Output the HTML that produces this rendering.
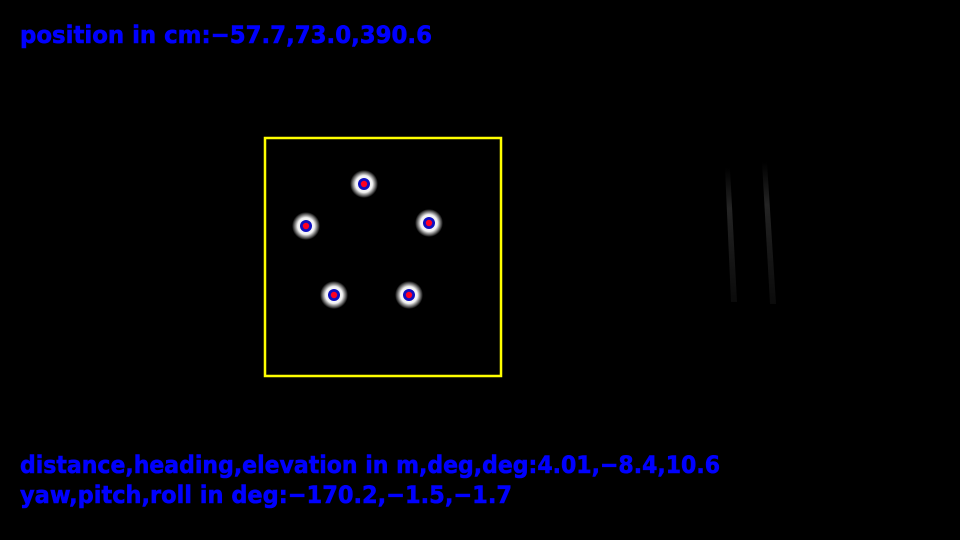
<!DOCTYPE html>
<html><head><meta charset="utf-8"><style>
html,body{margin:0;padding:0;background:#000;width:960px;height:540px;overflow:hidden}
svg{display:block}
text{font-family:"DejaVu Sans","Liberation Sans",sans-serif;font-weight:bold;fill:#0000ff}
</style></head><body>
<svg width="960" height="540" viewBox="0 0 960 540">
<defs>
<radialGradient id="glow"><stop offset="0" stop-color="#fff"/><stop offset="0.6" stop-color="#fff" stop-opacity="0.95"/><stop offset="1" stop-color="#fff" stop-opacity="0"/></radialGradient>
<linearGradient id="streak" x1="0" y1="0" x2="0" y2="1"><stop offset="0" stop-color="#222" stop-opacity="0"/><stop offset="0.3" stop-color="#242424"/><stop offset="1" stop-color="#1c1c1c" stop-opacity="0.4"/></linearGradient>
</defs>
<rect width="960" height="540" fill="#000"/>
<polygon points="725,168 730,168 737,302 731,302" fill="url(#streak)"/>
<polygon points="762,162 767,162 776,304 770,304" fill="url(#streak)"/>
<rect x="265" y="138" width="236" height="238" fill="none" stroke="#ffff00" stroke-width="2.5"/>
<g id="dots"></g>
<text x="20" y="43" font-size="24" textLength="412" lengthAdjust="spacingAndGlyphs" stroke="#0000ff" stroke-width="0.6">position in cm:−57.7,73.0,390.6</text>
<text x="20" y="473" font-size="24" textLength="700" lengthAdjust="spacingAndGlyphs" stroke="#0000ff" stroke-width="0.6">distance,heading,elevation in m,deg,deg:4.01,−8.4,10.6</text>
<text x="20" y="503" font-size="24" textLength="492" lengthAdjust="spacingAndGlyphs" stroke="#0000ff" stroke-width="0.6">yaw,pitch,roll in deg:−170.2,−1.5,−1.7</text>
</svg>
<script>
const dotX=[364,306,429,334,409];
const dotY=[184,226,223,295,295];
const g=document.getElementById('dots');
const NS='http://www.w3.org/2000/svg';
for(let i=0;i<dotX.length;i++){
  const gl=document.createElementNS(NS,'circle');
  gl.setAttribute('cx',dotX[i]);gl.setAttribute('cy',dotY[i]);gl.setAttribute('r',14);gl.setAttribute('fill','url(#glow)');
  
  
  g.appendChild(gl);
  const b=document.createElementNS(NS,'circle');
  b.setAttribute('cx',dotX[i]);b.setAttribute('cy',dotY[i]);b.setAttribute('r',6);b.setAttribute('fill','#1010c0');
  
  
  g.appendChild(b);
  const r=document.createElementNS(NS,'circle');
  r.setAttribute('cx',dotX[i]);r.setAttribute('cy',dotY[i]);r.setAttribute('r',3.2);r.setAttribute('fill','#ff0020');
  
  
  g.appendChild(r);
}
</script>
</body></html>
